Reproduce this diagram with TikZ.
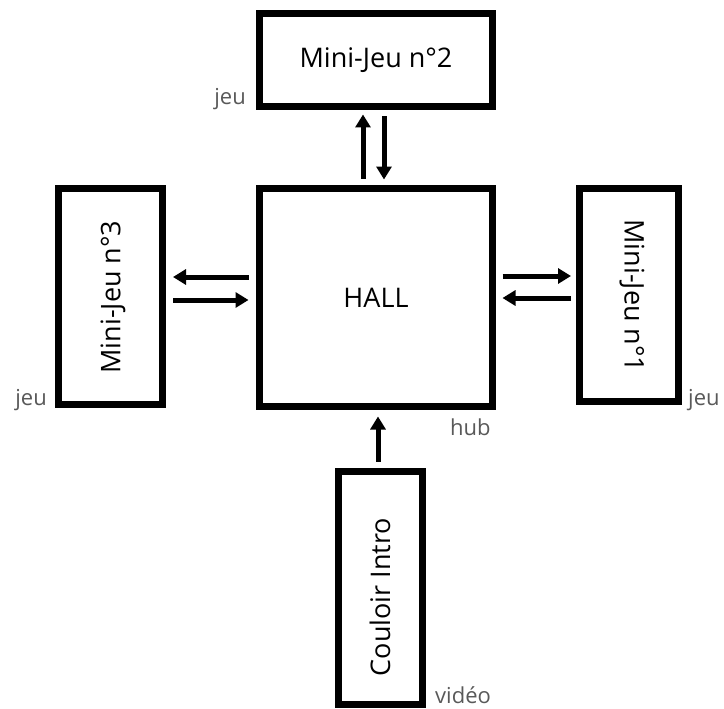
\documentclass[tikz,border=0pt]{standalone}
\usepackage{fontspec}
\setmainfont{Open Sans}
\usetikzlibrary{arrows.meta}
\definecolor{labelgray}{HTML}{595959}
\tikzset{
  room/.style={draw=black, line width=7pt, fill=white, inner sep=0pt,
    font=\fontsize{27}{30}\selectfont},
  arr/.style={line width=5pt, -{Triangle[width=15pt,length=13pt]}},
  tag/.style={text=labelgray, inner sep=0pt, font=\fontsize{22}{25}\selectfont}
}
\begin{document}
\begin{tikzpicture}[x=1pt,y=-1pt]
\useasboundingbox (0,0) rectangle (724,709);

% rooms
\node[room, minimum width=233pt, minimum height=218pt] (hall) at (376,297.5) {HALL};
\node[room, minimum width=233pt, minimum height=93pt] (mj2) at (376,60) {Mini-Jeu n°2};
\node[room, minimum width=104pt, minimum height=216pt] (mj3) at (110.5,296.5) {};
\node[room, minimum width=99pt, minimum height=213pt] (mj1) at (629,295) {};
\node[room, minimum width=84pt, minimum height=233pt] (intro) at (380.5,588) {};

% rotated captions
\node[rotate=90, font=\fontsize{27}{30}\selectfont] (t3) at (113,297) {Mini-Jeu n°3};
\node[rotate=-90, font=\fontsize{27}{30}\selectfont] (t1) at (632,296) {Mini-Jeu n°1};
\node[rotate=90, font=\fontsize{27}{30}\selectfont] (ti) at (380,597) {Couloir Intro};

% connections
\draw[arr] ([xshift=-13pt,yshift=6.5pt]hall.north) -- ([xshift=-13pt,yshift=-4.5pt]mj2.south);
\draw[arr] ([xshift=8pt,yshift=-6.5pt]mj2.south) -- ([xshift=8pt,yshift=5.5pt]hall.north);

\draw[arr] ([xshift=-7.5pt,yshift=20.5pt]hall.west) -- ([xshift=7pt,yshift=19.5pt]mj3.east);
\draw[arr] ([xshift=7pt,yshift=-3.5pt]mj3.east) -- ([xshift=-7.5pt,yshift=-2.5pt]hall.west);

\draw[arr] ([xshift=6.5pt,yshift=21.5pt]hall.east) -- ([xshift=-5pt,yshift=19pt]mj1.west);
\draw[arr] ([xshift=-5pt,yshift=-3pt]mj1.west) -- ([xshift=6.5pt,yshift=-0.5pt]hall.east);

\draw[arr] ([xshift=-2.5pt,yshift=6.5pt]intro.north) -- ([xshift=2pt,yshift=-6.5pt]hall.south);

% type tags
\node[tag, anchor=base east] (g2) at (246,105) {jeu};
\node[tag, anchor=base east] (g3) at (47,405) {jeu};
\node[tag, anchor=base west] (g1) at (688,405) {jeu};
\node[tag, anchor=base west] (gh) at (450,435) {hub};
\node[tag, anchor=base west] (gv) at (435,703) {vidéo};
\end{tikzpicture}
\end{document}
